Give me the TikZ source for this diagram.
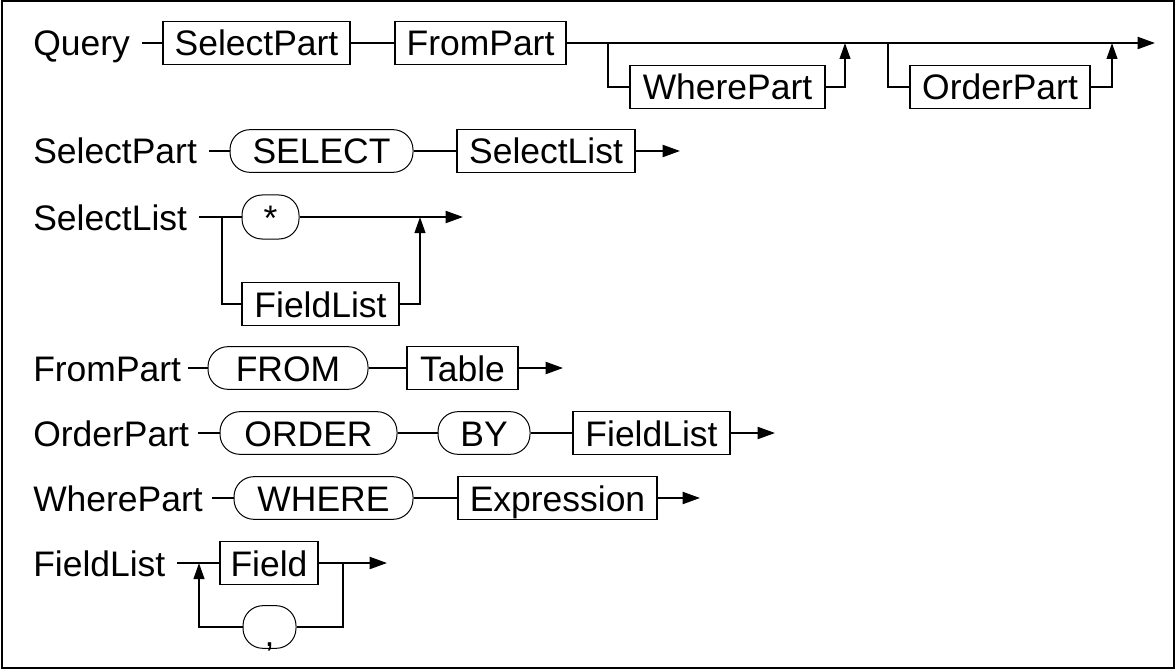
\documentclass[tikz,border=0pt]{standalone}
\usepackage{fontspec}
\setmainfont{Liberation Sans}
\usetikzlibrary{arrows.meta}
\newcommand\dgfont{\fontsize{26.6pt}{32pt}\selectfont}
\tikzset{
  txt/.style={font=\dgfont, inner sep=0pt, text height=19.5pt, text depth=0pt},
  lbl/.style={txt, anchor=west},
  box/.style={txt, draw, line width=0.9pt, minimum width={#1*0.75pt}, minimum height=32pt},
  oval/.style={txt, draw, line width=0.75pt, rounded corners=15pt, minimum width={#1*0.75pt}, minimum height=32pt},
  conn/.style={line width=1.5pt},
  arr/.style={conn, -{Triangle[length=13pt,width=9pt]}},
  uparr/.style={conn, -{Triangle[length=12pt,width=8pt]}}
}
\begin{document}
\begin{tikzpicture}[x=0.75pt,y=-0.75pt]
\useasboundingbox (0,0) rectangle (1176,670);
\draw[line width=1.5pt] (2,1) rectangle (1174,668);

% Row 1: Query
\node[lbl] (qL) at (33,43) {Query};
\coordinate (q0) at (142,43);
\node[box=187] (q1) at (256.5,43) {SelectPart};
\node[box=171] (q2) at (480.5,43) {FromPart};
\node[box=195] (q3) at (727.5,87) {WherePart};
\node[box=180] (q4) at (1000,87) {OrderPart};
\coordinate (qend) at (1155,43);
\coordinate (qa) at (608,43);
\coordinate (qb) at (845,43);
\coordinate (qc) at (888,43);
\coordinate (qd) at (1112,43);
\draw[conn] (q0) -- (q1.west);
\draw[conn] (q1.east) -- (q2.west);
\draw[arr] (q2.east) -- (qend);
\draw[conn] (qa) |- (q3.west);
\draw[uparr] (q3.east) -| (qb);
\draw[conn] (qc) |- (q4.west);
\draw[uparr] (q4.east) -| (qd);

% Row 2: SelectPart
\node[lbl] (sL) at (33,151) {SelectPart};
\coordinate (s0) at (209,151);
\node[oval=183] (s1) at (321.5,151) {SELECT};
\node[box=178] (s2) at (546,151) {SelectList};
\coordinate (send) at (680,151);
\draw[conn] (s0) -- (s1.west);
\draw[conn] (s1.east) -- (s2.west);
\draw[arr] (s2.east) -- (send);

% Row 3: SelectList
\node[lbl] (lL) at (33,217) {SelectList};
\coordinate (l0) at (199,217);
\node[oval=57, minimum height=33pt] (l1) at (270.5,217) {*};
\node[box=157] (l2) at (320.5,304) {FieldList};
\coordinate (lend) at (463,217);
\coordinate (la) at (222,217);
\coordinate (lb) at (420,217);
\draw[conn] (l0) -- (l1.west);
\draw[arr] (l1.east) -- (lend);
\draw[conn] (la) |- (l2.west);
\draw[uparr] (l2.east) -| (lb);

% Row 4: FromPart
\node[lbl] (fL) at (33,368) {FromPart};
\coordinate (f0) at (188,368);
\node[oval=160] (f1) at (288,368) {FROM};
\node[box=111] (f2) at (462.5,368) {Table};
\coordinate (fend) at (563,368);
\draw[conn] (f0) -- (f1.west);
\draw[conn] (f1.east) -- (f2.west);
\draw[arr] (f2.east) -- (fend);

% Row 5: OrderPart
\node[lbl] (oL) at (33,433) {OrderPart};
\coordinate (o0) at (198,433);
\node[oval=177] (o1) at (308.5,433) {ORDER};
\node[oval=92] (o2) at (484,433) {BY};
\node[box=157] (o3) at (651.5,433) {FieldList};
\coordinate (oend) at (775,433);
\draw[conn] (o0) -- (o1.west);
\draw[conn] (o1.east) -- (o2.west);
\draw[conn] (o2.east) -- (o3.west);
\draw[arr] (o3.east) -- (oend);

% Row 6: WherePart
\node[lbl] (wL) at (33,498) {WherePart};
\coordinate (w0) at (212,498);
\node[oval=179] (w1) at (323.5,498) {WHERE};
\node[box=199] (w2) at (557.5,498) {Expression};
\coordinate (wend) at (700,498);
\draw[conn] (w0) -- (w1.west);
\draw[conn] (w1.east) -- (w2.west);
\draw[arr] (w2.east) -- (wend);

% Row 7: FieldList
\node[lbl] (cL) at (33,563) {FieldList};
\coordinate (c0) at (177,563);
\node[box=98] (c1) at (269,563) {Field};
\node[oval=53] (c2) at (269.5,627) {\raisebox{-5pt}{,}};
\coordinate (cend) at (387,563);
\coordinate (ca) at (199,563);
\coordinate (cb) at (343,563);
\draw[conn] (c0) -- (c1.west);
\draw[arr] (c1.east) -- (cend);
\draw[conn] (cb) |- (c2.east);
\draw[uparr] (c2.west) -| (ca);
\end{tikzpicture}
\end{document}
